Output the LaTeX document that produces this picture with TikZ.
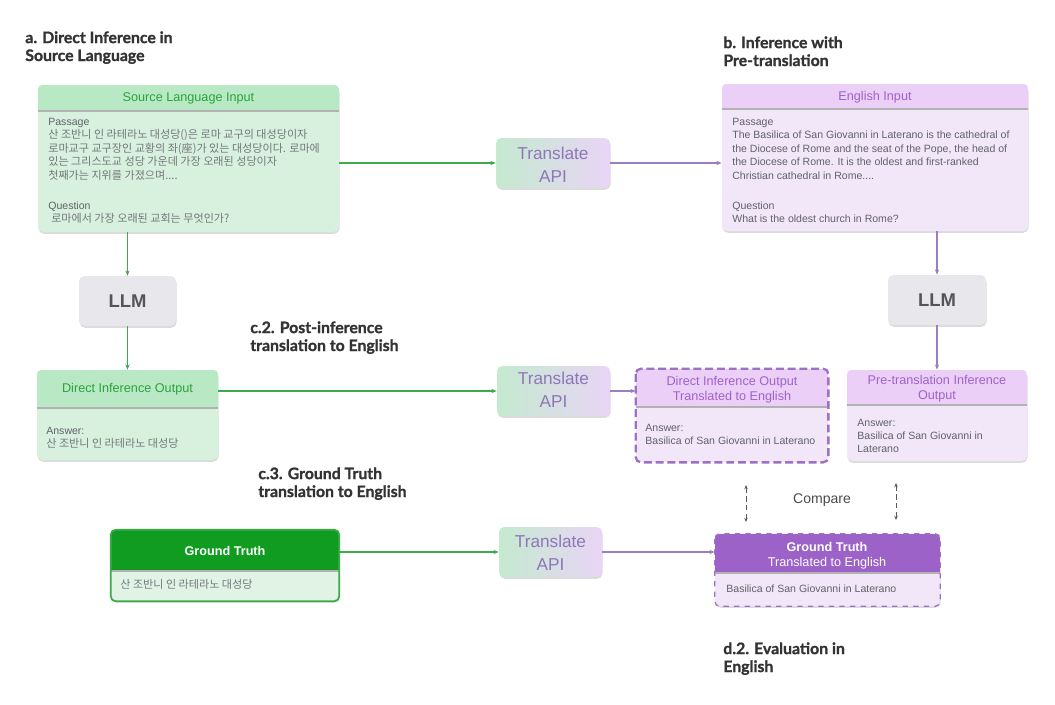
\documentclass[tikz,border=0pt]{standalone}
\usepackage{fontspec}
\setmainfont{Liberation Sans}
\newfontfamily\kr{Noto Sans CJK KR}
\newfontfamily\lbl[BoldFeatures={FakeBold=1.2}]{Lato}
\usetikzlibrary{arrows.meta,fit,shadows}
\definecolor{gHead}{HTML}{B8E9C4}
\definecolor{gBody}{HTML}{D8F0DE}
\definecolor{gText}{HTML}{2AA33C}
\definecolor{gLine}{HTML}{3DAA4C}
\definecolor{gDark}{HTML}{0F9C20}
\definecolor{gtBody}{HTML}{E0F3E5}
\definecolor{pHead}{HTML}{EBCFF7}
\definecolor{pBody}{HTML}{F2E6F9}
\definecolor{pText}{HTML}{A062CA}
\definecolor{pLine}{HTML}{9C7DC0}
\definecolor{pDark}{HTML}{9C62C8}
\definecolor{pDash}{HTML}{9E70C6}
\definecolor{trText}{HTML}{8F76B8}
\definecolor{trL}{HTML}{C4EACF}
\definecolor{trR}{HTML}{E9D5F6}
\definecolor{llmFill}{HTML}{E8E8EC}
\definecolor{llmText}{HTML}{555555}
\definecolor{txt}{HTML}{5F6368}
\definecolor{krText}{HTML}{74787C}
\definecolor{lblText}{HTML}{333333}
\newcommand\krt[1]{{\kr\fontsize{6.3}{7.6}\selectfont\color{krText}#1}}
\newcommand\mkbox[6]{%
  \coordinate (#1-tl) at (#2,#3);
  \coordinate (#1-br) at (#4,#5);
  \node[fit=(#1-tl)(#1-br), inner sep=0pt, #6] (#1) {};}
\newcommand\mkhead[3]{%
  \coordinate (#1-h) at (0,#2);
  \begin{scope}
  \clip[rounded corners=3pt] (#1.north west) rectangle (#1.south east);
  \fill[#3] (#1.north west) rectangle (#1.east |- #1-h);
  \draw[hdrline] (#1.west |- #1-h) -- (#1.east |- #1-h);
  \end{scope}}
\tikzset{
  x=0.02cm, y=-0.02cm,
  shad/.style={drop shadow={shadow xshift=0.3pt, shadow yshift=-1pt, opacity=0.28}},
  card/.style={rounded corners=3pt, shad},
  hdrline/.style={black!30, line width=0.9pt},
  trbox/.style={card, left color=trL, right color=trR},
  trtext/.style={anchor=north, inner sep=0pt, align=center, text=trText,
                font=\fontsize{9.8}{13}\selectfont},
  llmbox/.style={card, fill=llmFill},
  llmtext/.style={anchor=base, inner sep=0pt, text=llmText, font=\fontsize{10.5}{12}\selectfont\bfseries},
  body/.style={anchor=north west, inner sep=0pt, align=left, text=txt, font=\fontsize{6}{7.6}\selectfont},
  head/.style={inner sep=0pt, align=center, font=\fontsize{7.2}{8.7}\selectfont},
  sect/.style={anchor=north west, inner sep=0pt, align=left, text=lblText, font=\fontsize{9}{10.2}\lbl\bfseries},
  tip/.style={-{Stealth[length=3pt,width=2.4pt]}},
  gconn/.style={tip, gLine, line width=0.6pt},
  pconn/.style={tip, pLine, line width=0.6pt},
  cmp/.style={{Stealth[length=2.4pt,width=2pt]}-{Stealth[length=2.4pt,width=2pt]}, black!65, densely dashed, line width=0.4pt},
}
\begin{document}
\begin{tikzpicture}
\path[use as bounding box, fill=white] (0,0) rectangle (1055,704);

% section labels
\node[sect] (la) at (25,31) {a. Direct Inference in\\Source Language};
\node[sect] (lb) at (723,36) {b. Inference with\\Pre-translation};
\node[sect] (lc2) at (250,321) {c.2. Post-inference\\translation to English};
\node[sect] (lc3) at (258,467) {c.3. Ground Truth\\translation to English};
\node[sect] (ld2) at (723,642) {d.2. Evaluation in\\English};

% Source Language Input
\mkbox{sli}{38}{85}{339}{232}{card, fill=gBody}
\mkhead{sli}{111}{gHead}
\node[head, text=gText] (slih) at (188.5,98) {Source Language Input};
\node[body] (slib) at (48,118) {Passage\\
\krt{산 조반니 인 라테라노 대성당()은 로마 교구의 대성당이자}\\
\krt{로마교구 교구장인 교황의 좌(座)가 있는 대성당이다. 로마에}\\
\krt{있는 그리스도교 성당 가운데 가장 오래된 성당이자}\\
\krt{첫째가는 지위를 가졌으며....}\\[9.5pt]
Question\\
\ \krt{로마에서 가장 오래된 교회는 무엇인가?}};

% English Input
\mkbox{ei}{722}{84}{1028}{231}{card, fill=pBody}
\mkhead{ei}{109}{pHead}
\node[head, text=pText] (eih) at (875,97) {English Input};
\node[body] (eib) at (732,118) {Passage\\
The Basilica of San Giovanni in Laterano is the cathedral of\\
the Diocese of Rome and the seat of the Pope, the head of\\
the Diocese of Rome. It is the oldest and first-ranked\\
Christian cathedral in Rome....\\[9.5pt]
Question\\
What is the oldest church in Rome?};

% Translate APIs
\mkbox{tr1}{496}{138}{610}{188}{trbox}
\node[trtext] (tr1t) at (553,146.5) {Translate\\API};
\mkbox{tr2}{497}{366}{610}{416}{trbox}
\node[trtext] (tr2t) at (553.5,372) {Translate\\API};
\mkbox{tr3}{499}{527}{602}{577}{trbox}
\node[trtext] (tr3t) at (550.5,534.5) {Translate\\API};

% LLMs
\mkbox{llm1}{79}{276}{176}{326}{llmbox}
\node[llmtext] (llm1t) at (127.5,307.5) {LLM};
\mkbox{llm2}{888}{275}{986}{325}{llmbox}
\node[llmtext] (llm2t) at (937,306.5) {LLM};

% Direct Inference Output
\mkbox{dio}{37}{370}{218}{460}{card, fill=gBody}
\mkhead{dio}{408}{gHead}
\node[head, text=gText] (dioh) at (127.5,389.5) {Direct Inference Output};
\node[body] (diob) at (46,427) {Answer:\\\krt{산 조반니 인 라테라노 대성당}};

% Direct Inference Output Translated
\mkbox{diot}{636}{369}{828}{462}{rounded corners=3pt, fill=pBody}
\mkhead{diot}{407}{pHead}
\draw[pDash, line width=1.3pt, dash pattern=on 4.5pt off 2.2pt, rounded corners=3pt]
  (diot.north west) rectangle (diot.south east);
\node[head, text=pText] (dioth) at (732,390) {Direct Inference Output\\Translated to English};
\node[body] (diotb) at (645,424) {Answer:\\Basilica of San Giovanni in Laterano};

% Pre-translation Inference Output
\mkbox{ptio}{847}{370}{1027}{461}{card, fill=pBody}
\mkhead{ptio}{405}{pHead}
\node[head, text=pText] (ptioh) at (937,389) {Pre-translation Inference\\Output};
\node[body] (ptiob) at (857,418.5) {Answer:\\Basilica of San Giovanni in\\Laterano};

% Ground Truth
\mkbox{gt}{111}{530}{339}{601}{card, fill=gtBody}
\mkhead{gt}{571}{gDark}
\draw[gLine, line width=1pt, rounded corners=3pt] (gt.north west) rectangle (gt.south east);
\node[head, text=white, font=\fontsize{7.2}{8.6}\selectfont\bfseries] (gth) at (225,551) {Ground Truth};
\node[body, anchor=west] (gtb) at (120,584) {\krt{산 조반니 인 라테라노 대성당}};

% Ground Truth Translated
\mkbox{gtt}{715}{534}{940}{606}{card, fill=pBody}
\mkhead{gtt}{573}{pDark}
\draw[pDash, line width=0.7pt, dashed, rounded corners=3pt] (gtt.north west) rectangle (gtt.south east);
\node[head, text=white] (gtth) at (827,556) {\textbf{Ground Truth}\\Translated to English};
\node[body, anchor=west] (gttb) at (726,589) {Basilica of San Giovanni in Laterano};

% connectors
\draw[gconn] (sli.east |- tr1.west) -- (tr1.west);
\draw[pconn] (tr1.east) -- (ei.west |- tr1.east);
\draw[gconn] (llm1.north |- sli.south) -- (llm1.north);
\draw[gconn] (llm1.south) -- (llm1.south |- dio.north);
\draw[gconn] (dio.east |- tr2.west) -- (tr2.west);
\draw[pconn] (tr2.east) -- (diot.west |- tr2.east);
\draw[pconn] (llm2.north |- ei.south) -- (llm2.north);
\draw[pconn] (llm2.south) -- (llm2.south |- ptio.north);
\draw[gconn] (gt.east |- tr3.west) -- (tr3.west);
\draw[pconn] (tr3.east) -- (gtt.west |- tr3.east);

% compare
\coordinate (c1a) at (746,485);
\coordinate (c1b) at (746,522);
\coordinate (c2a) at (896,483);
\coordinate (c2b) at (896,520);
\draw[cmp] (c1a) -- (c1b);
\draw[cmp] (c2a) -- (c2b);
\node[inner sep=0pt, text=black!70, font=\fontsize{8}{9}\selectfont] (cmpt) at (822,500) {Compare};
\end{tikzpicture}
\end{document}
